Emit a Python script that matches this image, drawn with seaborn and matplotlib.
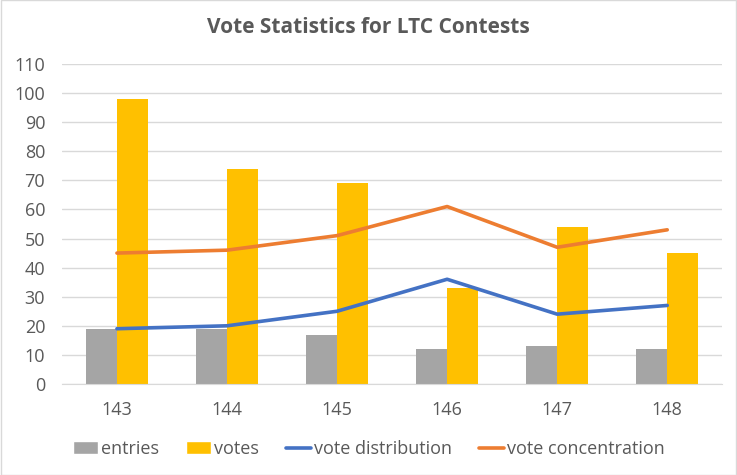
import matplotlib
matplotlib.use("Agg")
import matplotlib.pyplot as plt
import seaborn as sns
import pandas as pd
import numpy as np
from matplotlib.patches import Patch
from matplotlib.lines import Line2D

contests = ["143", "144", "145", "146", "147", "148"]
entries = [19, 19, 17, 12, 13, 12]
votes = [98, 74, 69, 33, 54, 45]
vote_distribution = [19, 20, 25, 36, 24, 27]
vote_concentration = [45, 46, 51, 61, 47, 53]
y_ticks = list(range(0, 111, 10))

C_GRAY = "#a5a5a5"
C_YELLOW = "#ffc000"
C_BLUE = "#4472c4"
C_ORANGE = "#ed7d31"
TXT = "#595959"

sns.set_style("white")
plt.rcParams["font.family"] = ["Open Sans", "DejaVu Sans"]

bars = pd.DataFrame({
    "contest": contests * 2,
    "value": entries + votes,
    "series": ["entries"] * len(contests) + ["votes"] * len(contests),
})
lines = pd.DataFrame({
    "pos": list(range(len(contests))) * 2,
    "value": vote_distribution + vote_concentration,
    "series": ["vote distribution"] * len(contests) + ["vote concentration"] * len(contests),
})

fig = plt.figure(figsize=(7.37, 4.75), dpi=100)
ax = fig.add_axes([0.084, 0.1916, 0.896, 0.6737])

sns.barplot(data=bars, x="contest", y="value", hue="series", order=contests,
            palette={"entries": C_GRAY, "votes": C_YELLOW}, width=0.56,
            saturation=1, ax=ax, legend=False, edgecolor="none", linewidth=0)
sns.lineplot(data=lines, x="pos", y="value", hue="series",
             palette={"vote distribution": C_BLUE, "vote concentration": C_ORANGE},
             linewidth=2.6, ax=ax, legend=False)

ax.set_xlim(-0.5, len(contests) - 0.5)
ax.set_ylim(0, 110)
ax.set_yticks(y_ticks)
ax.set_xticks(range(len(contests)))
ax.set_xticklabels(contests)
ax.yaxis.grid(True, color="#d9d9d9", linewidth=1)
ax.set_axisbelow(True)
for s in ["top", "right", "left"]:
    ax.spines[s].set_visible(False)
ax.spines["bottom"].set_color("#d9d9d9")
ax.tick_params(axis="both", length=0, labelsize=13, colors=TXT)
ax.tick_params(axis="x", pad=12)
ax.tick_params(axis="y", pad=12)
ax.set_xlabel("")
ax.set_ylabel("")

fig.text(0.5, 0.943, "Vote Statistics for LTC Contests", ha="center", va="center",
         fontsize=15, fontweight="bold", color=TXT)

handles = [
    Patch(facecolor=C_GRAY, label="entries"),
    Patch(facecolor=C_YELLOW, label="votes"),
    Line2D([0], [0], color=C_BLUE, lw=2.6, label="vote distribution"),
    Line2D([0], [0], color=C_ORANGE, lw=2.6, label="vote concentration"),
]
leg = fig.legend(handles=handles, loc="center", bbox_to_anchor=(0.5, 0.055), ncol=4,
                 frameon=False, fontsize=13, handlelength=1.4, handletextpad=0.15,
                 columnspacing=1.5, labelcolor=TXT)

fig.patches.append(plt.Rectangle((0.001, 0.001), 0.998, 0.998, transform=fig.transFigure,
                                 fill=False, edgecolor="#d9d9d9", linewidth=1))
fig.savefig("out.png", dpi=100)
